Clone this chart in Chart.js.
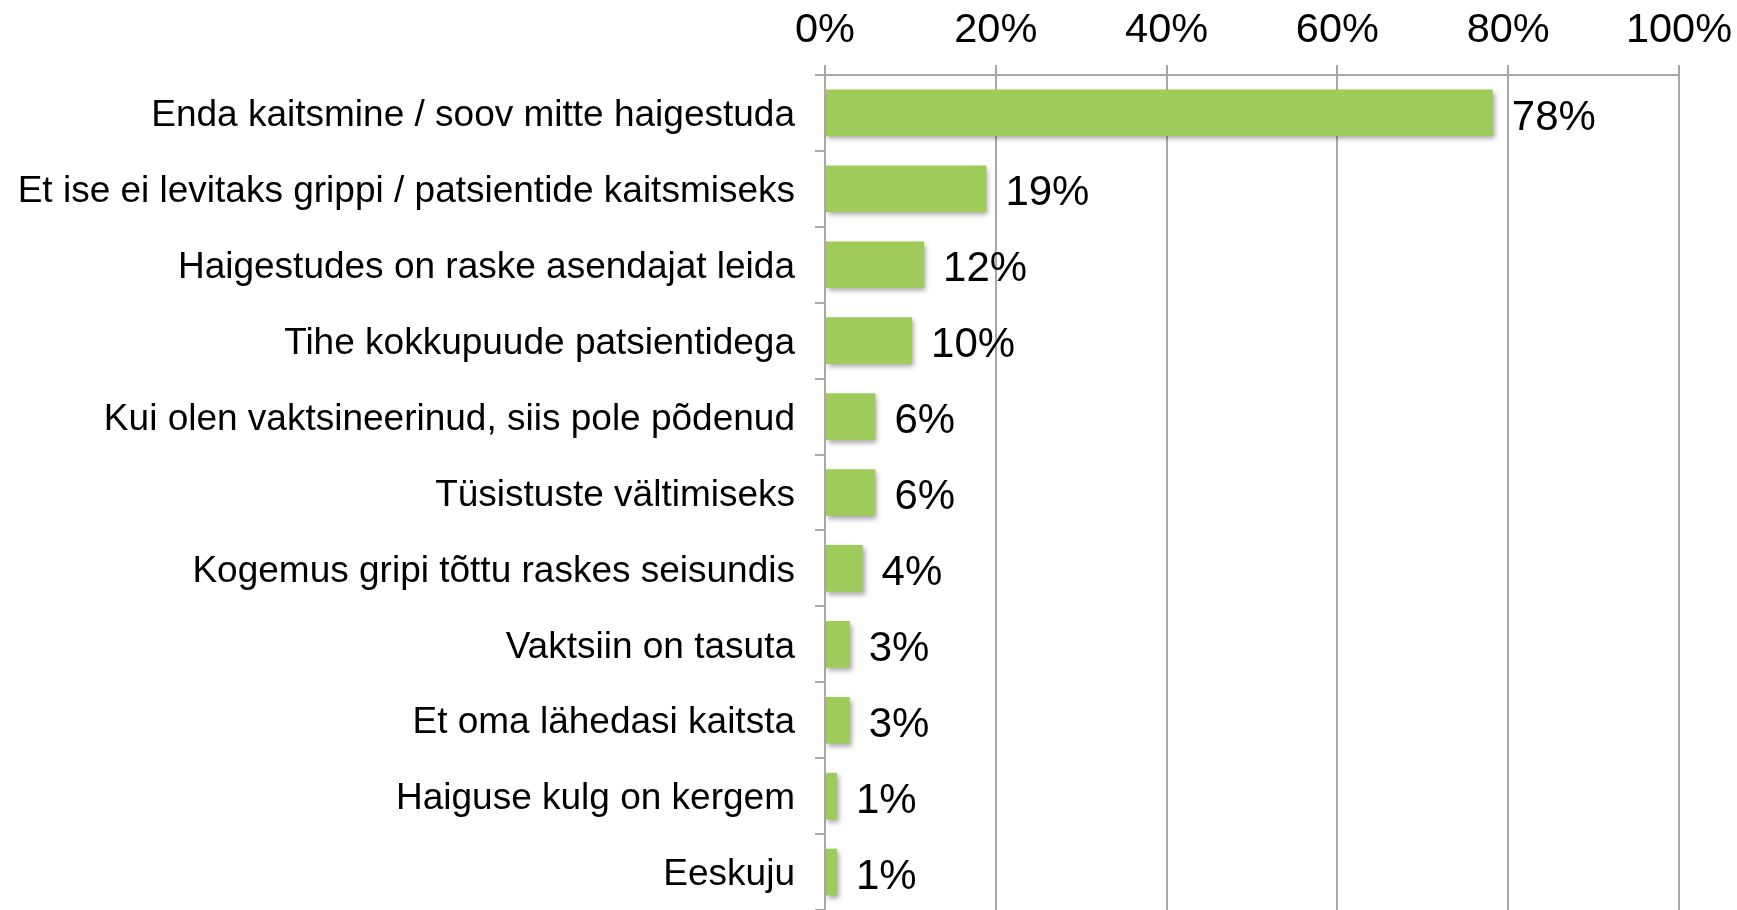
<!DOCTYPE html>
<html>
<head>
<meta charset="utf-8">
<script src="https://cdn.jsdelivr.net/npm/chart.js@4.4.1/dist/chart.umd.min.js"></script>
<style>
    html, body { margin: 0; padding: 0; background: #ffffff; }
    #wrap { width: 1737px; height: 910px; position: relative; }
</style>
</head>
<body>
<div id="wrap"><canvas id="reasonsChart"></canvas></div>
<script>
// Reasons for getting the flu vaccine (share of respondents)
const categories = [
    'Enda kaitsmine / soov mitte haigestuda',
    'Et ise ei levitaks grippi / patsientide kaitsmiseks',
    'Haigestudes on raske asendajat leida',
    'Tihe kokkupuude patsientidega',
    'Kui olen vaktsineerinud, siis pole põdenud',
    'Tüsistuste vältimiseks',
    'Kogemus gripi tõttu raskes seisundis',
    'Vaktsiin on tasuta',
    'Et oma lähedasi kaitsta',
    'Haiguse kulg on kergem',
    'Eeskuju'
];
const shares = [78.2, 18.9, 11.6, 10.2, 5.9, 5.9, 4.4, 2.9, 2.9, 1.4, 1.4];
const xTicks = [0, 20, 40, 60, 80, 100];

const FONT = '"Liberation Sans", Arial, Helvetica, sans-serif';
const GRID = '#a9a9a9';

// bar shadow + value labels at the end of each bar
const barExtras = {
    id: 'barExtras',
    beforeDatasetsDraw(chart) {
        const ctx = chart.ctx;
        ctx.save();
        ctx.shadowColor = 'rgba(0, 0, 0, 0.35)';
        ctx.shadowBlur = 5;
        ctx.shadowOffsetX = 2;
        ctx.shadowOffsetY = 3;
    },
    afterDatasetsDraw(chart) {
        const ctx = chart.ctx;
        ctx.restore();
        const meta = chart.getDatasetMeta(0);
        ctx.save();
        ctx.font = '42px ' + FONT;
        ctx.fillStyle = '#000000';
        ctx.textAlign = 'left';
        ctx.textBaseline = 'middle';
        meta.data.forEach((bar, i) => {
            ctx.fillText(Math.round(shares[i]) + '%', bar.x + 19, bar.y + 5);
        });
        ctx.restore();
    }
};

const reasonsCtx = document.getElementById('reasonsChart').getContext('2d');
const reasonsChart = new Chart(reasonsCtx, {
    type: 'bar',
    data: {
        labels: categories,
        datasets: [{
            data: shares,
            backgroundColor: '#9fcb5b',
            borderWidth: 0,
            barPercentage: 0.615,
            categoryPercentage: 1.0
        }]
    },
    options: {
        indexAxis: 'y',
        responsive: true,
        maintainAspectRatio: false,
        animation: false,
        layout: {
            padding: { left: 0, right: 58, top: 0, bottom: 0 }
        },
        plugins: {
            legend: { display: false },
            tooltip: { enabled: false }
        },
        scales: {
            x: {
                position: 'top',
                min: 0,
                max: 100,
                afterBuildTicks: function(axis) {
                    axis.ticks = xTicks.map(v => ({ value: v }));
                },
                afterFit: function(axis) {
                    axis.height = 75;
                    axis.paddingLeft = 0;
                    axis.paddingRight = 0;
                },
                grid: {
                    color: GRID,
                    lineWidth: 2,
                    tickLength: 10
                },
                border: { color: GRID, width: 2 },
                ticks: {
                    font: { size: 41.5, family: FONT },
                    color: '#000000',
                    padding: 10,
                    maxRotation: 0,
                    callback: function(value) {
                        return value + '%';
                    }
                }
            },
            y: {
                afterFit: function(axis) {
                    axis.width = 825;
                    // let the bottom row reach the canvas edge
                    axis.paddingTop = 0;
                    axis.paddingBottom = 0;
                },
                grid: {
                    drawOnChartArea: false,
                    color: GRID,
                    lineWidth: 2,
                    tickLength: 10
                },
                border: { color: GRID, width: 2 },
                ticks: {
                    font: { size: 37, family: FONT },
                    color: '#000000',
                    padding: 20,
                    labelOffset: 3,
                    autoSkip: false
                }
            }
        }
    },
    plugins: [barExtras]
});
</script>
</body>
</html>
